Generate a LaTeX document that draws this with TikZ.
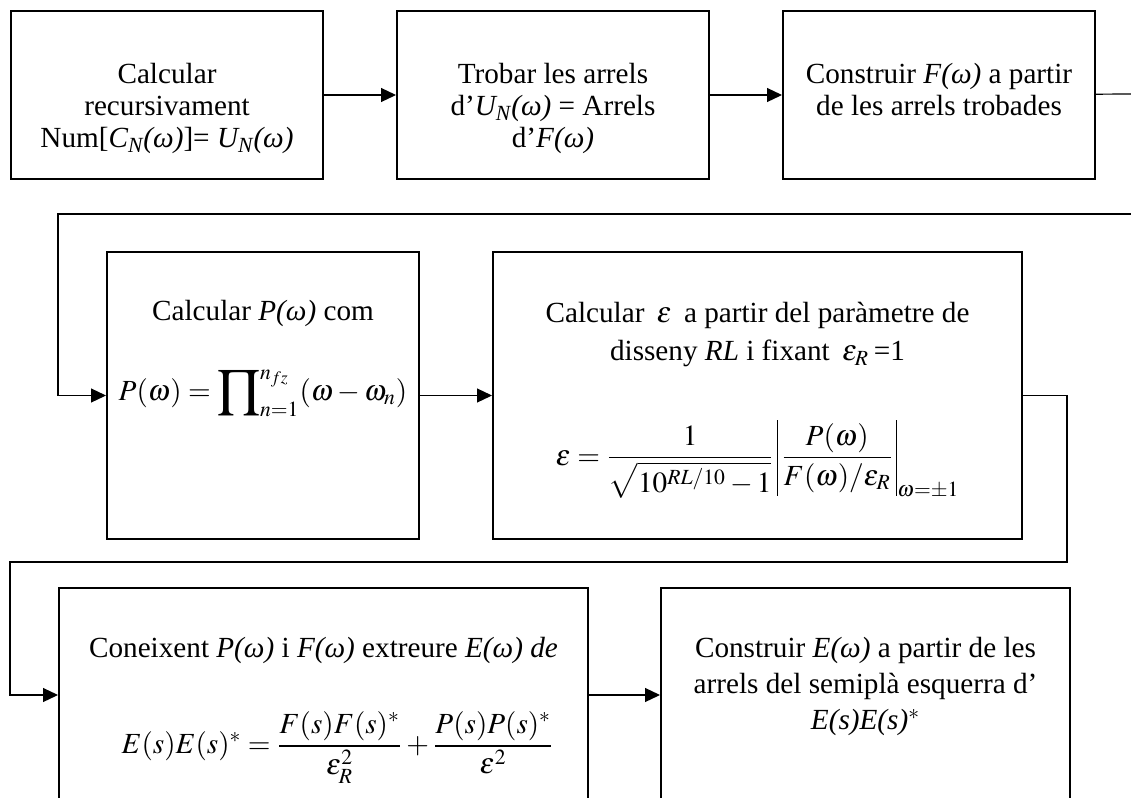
\documentclass[tikz,border=0pt]{standalone}
\usepackage{amsmath}
\usepackage{mathptmx}
\usepackage{fontspec}
\setmainfont{Liberation Serif}
\usetikzlibrary{arrows.meta, positioning}
\newcommand{\absbar}{\rule[-1.05em]{0.5pt}{2.6em}}

\begin{document}
\begin{tikzpicture}[
    x=0.5pt, y=-0.5pt,
    node distance=36pt,
    procbox/.style={rectangle, draw, line width=1pt, inner sep=0pt},
    boxtext/.style={align=center, inner sep=0pt, font=\fontsize{14.6pt}{16pt}\selectfont},
    eqtext/.style={inner sep=0pt, font=\fontsize{14.6pt}{16pt}\selectfont},
    arrow/.style={-{Triangle[length=7.5pt, width=7pt]}, line width=0.6pt},
    wire/.style={line width=0.6pt},
]
\useasboundingbox (0,0) rectangle (1131,798);
% first row
\node[procbox, minimum width=156pt, minimum height=84pt, anchor=north west] (calc) at (10,10) {};
\node[procbox, minimum width=156pt, minimum height=84pt, right=of calc] (roots) {};
\node[procbox, minimum width=156pt, minimum height=84pt, right=of roots] (buildF) {};
\node[boxtext, below=26.5pt of calc.north] (calcT) {Calcular\\recursivament\\Num[\textit{C\textsubscript{N}(ω)}]= \textit{U\textsubscript{N}(ω)}};
\node[boxtext, below=26.5pt of roots.north] (rootsT) {Trobar les arrels\\d’\textit{U\textsubscript{N}(ω)} = Arrels\\d’\textit{F(ω)}};
\node[boxtext, below=26.5pt of buildF.north] (buildFT) {Construir \textit{F(ω)} a partir\\de les arrels trobades};
% second row
\node[procbox, minimum width=156pt, minimum height=143.5pt, anchor=north west] (calcP) at (106,251) {};
\node[procbox, minimum width=264.5pt, minimum height=143.5pt, right=of calcP] (calcEps) {};
\node[boxtext, below=24.5pt of calcP.north] (calcPT) {Calcular \textit{P(ω)} com};
\node[eqtext, below=21pt of calcPT] (calcPEq) {$P(\omega)=\mathop{\vcenter{\hbox{\fontsize{26pt}{26pt}\selectfont$\prod$}}}\nolimits_{n=1}^{n_{fz}}(\omega-\omega_n)$};
\node[boxtext, below=25.5pt of calcEps.north] (calcEpsT) {Calcular \,$\varepsilon$\, a partir del paràmetre de\\[3pt]disseny \textit{RL} i fixant \,$\varepsilon_R$\,=1};
\node[eqtext, below=26pt of calcEpsT] (calcEpsEq) {$\varepsilon=\dfrac{1}{\sqrt{10^{RL/10}-1}}\,\mathopen{\absbar}\,\dfrac{P(\omega)}{F(\omega)/\varepsilon_R}\,\mathclose{\absbar}_{\omega=\pm1}$};
% third row
\node[procbox, minimum width=264.5pt, minimum height=107pt, anchor=north west] (getE) at (58,587) {};
\node[procbox, minimum width=204.5pt, minimum height=107pt, right=35.5pt of getE] (buildE) {};
\node[boxtext, below=25pt of getE.north] (getET) {Coneixent \textit{P(ω)} i \textit{F(ω)} extreure \textit{E(ω) de}};
\node[eqtext, below=23.5pt of getET, xshift=7pt] (getEEq) {$E(s)E(s)^*=\dfrac{F(s)F(s)^*}{\varepsilon_R^2}+\dfrac{P(s)P(s)^*}{\varepsilon^2}$};
\node[boxtext, below=25pt of buildE.north] (buildET) {Construir \textit{E(ω)} a partir de les\\[2pt]arrels del semiplà esquerra d’\\[2pt]\textit{E(s)E(s)}$^{*}$};
% connectors
\coordinate (exitF) at (1131,94);
\coordinate (enterP) at (1131,214);
\coordinate (bendP) at (58,214);
\coordinate (bendEa) at (1067,562);
\coordinate (bendEb) at (10,562);
\draw[arrow] (calc) -- (roots);
\draw[arrow] (roots) -- (buildF);
\draw[wire] (buildF) -- (exitF);
\draw[arrow] (enterP) -- (bendP) |- (calcP);
\draw[arrow] (calcP) -- (calcEps);
\draw[arrow] (calcEps) -| (bendEa) -- (bendEb) |- (getE);
\draw[arrow] (getE) -- (buildE);
\end{tikzpicture}
\end{document}
